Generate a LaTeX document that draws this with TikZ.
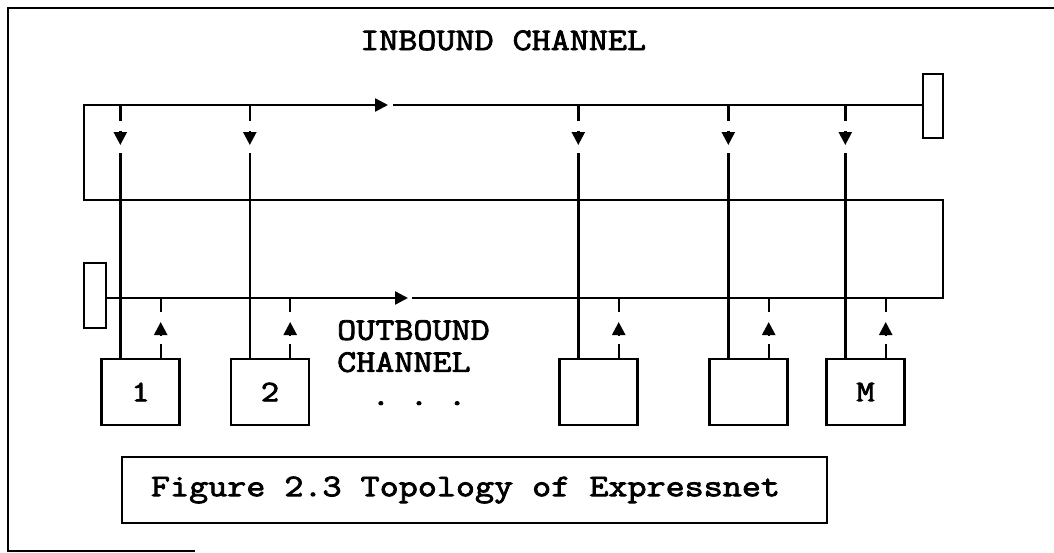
\documentclass[tikz,border=0pt]{standalone}
\usepackage{fontspec}
\newfontfamily\cour{Latin Modern Mono}[FakeStretch=1.175,FakeBold=2.6]
\usetikzlibrary{arrows.meta}
\begin{document}
\begin{tikzpicture}[x=1pt,y=-1pt,
  wire/.style={line width=2.4pt},
  tap/.style={wire,-{Triangle[length=13pt,width=13pt]}},
  flow/.style={wire,-{Triangle[length=13pt,width=13pt]}},
  station/.style={draw,line width=2.4pt,minimum width=78pt,minimum height=66pt,
                  inner sep=0pt,font=\cour\fontsize{30}{32}\selectfont},
  termbox/.style={draw,line width=2pt,inner sep=0pt},
  label/.style={inner sep=0pt,font=\cour\fontsize{31.5}{32}\selectfont}]
\useasboundingbox (0,0) rectangle (1054,552);

% page frame (open on the right)
\draw[line width=2pt] (1054,8) -- (8,8) -- (8,551) -- (195,551);

% channel title
\node[label,anchor=base west] (inlabel) at (360,50) {INBOUND CHANNEL};

% terminators of the two channels
\node[termbox,minimum width=20pt,minimum height=64pt] (tR) at (933,106) {};
\node[termbox,minimum width=22pt,minimum height=65pt] (tL) at (95,295.5) {};

% corners of the folded bus
\coordinate (inL)    at (84,105);
\coordinate (loopBL) at (84,200);
\coordinate (loopBR) at (943,200);
\coordinate (outR)   at (943,298);

% folded bus: outbound -> turn-around -> inbound
\draw[flow] (tL.east |- outR) -- (408,298);
\draw[flow] (412,298) -- (outR) -- (loopBR) -- (loopBL) -- (inL) -- (388,105);
\draw[wire] (393,105) -- (tR.west |- inL);

% stations
\node[station] (s1) at (140.5,392) {1};
\node[station] (s2) at (270,392)   {2};
\node[station] (s3) at (598.5,392) {};
\node[station] (s4) at (748.5,392) {};
\node[station] (sM) at (865.5,392) {M};

\foreach \s in {s1,s2,s3,s4,sM}{
  \path (\s.north west) ++(20,0) coordinate (\s-rx);
  \path (\s.north east) ++(-20,0) coordinate (\s-tx);
  % receive tap from the inbound channel
  \draw[wire] (\s-rx |- inL) -- (\s-rx |- 0,121);
  \draw[tap]  (\s-rx |- 0,131) -- (\s-rx |- 0,145);
  \draw[wire] (\s-rx |- 0,153) -- (\s-rx);
  % transmit tap onto the outbound channel
  \draw[wire] (\s-tx) -- (\s-tx |- 0,344);
  \draw[tap]  (\s-tx |- 0,336) -- (\s-tx |- 0,322);
  \draw[wire] (\s-tx |- 0,312) -- (\s-tx |- outR);
}

% outbound label and ellipsis
\node[label,anchor=north west,align=left] (outlabel) at (337,320) {OUTBOUND\\CHANNEL};
\node[label,anchor=base] (dots) at (419,405) {.\ .\ .};

% caption
\node[draw,line width=2pt,anchor=west,inner xsep=29pt,inner ysep=0pt,
      minimum height=66pt,font=\cour\fontsize{31.5}{32}\selectfont] (caption) at (121,490)
      {\makebox[647pt][l]{Figure\ 2.3\ Topology\ of\ Expressnet}};
\end{tikzpicture}
\end{document}
